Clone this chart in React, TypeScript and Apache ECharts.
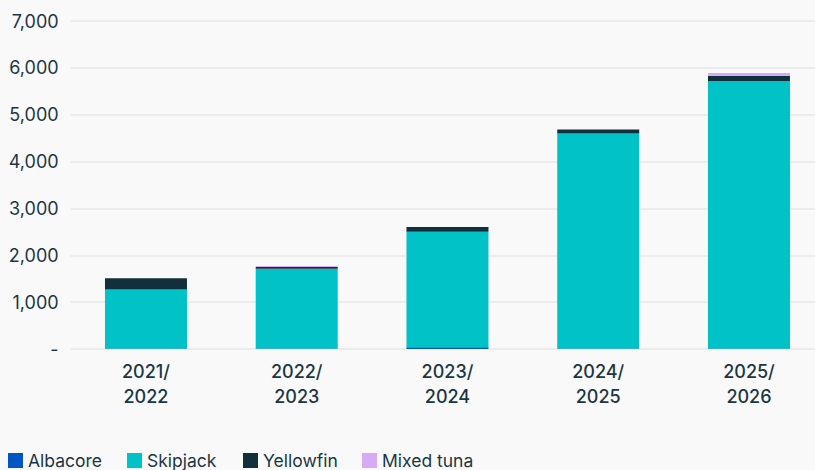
import React, { useEffect, useRef } from "react";
import * as echarts from "echarts";

const categories = ["2021/\n2022", "2022/\n2023", "2023/\n2024", "2024/\n2025", "2025/\n2026"];
const albacore = [10, 10, 40, 10, 10];
const skipjack = [1260, 1700, 2460, 4590, 5710];
const yellowfin = [240, 40, 105, 85, 105];
const mixedTuna = [0, 20, 0, 0, 65];
const yTicks = [0, 1000, 2000, 3000, 4000, 5000, 6000, 7000];
const legendNames = ["Albacore", "Skipjack", "Yellowfin", "Mixed tuna"];
const legendTextWidths = [80, 77, 80, 99];

const FONT = "Inter, 'Noto Sans', sans-serif";
const TEXT = "#1b3745";

export default function App() {
  const ref = useRef<HTMLDivElement>(null);
  useEffect(() => {
    if (!ref.current) return;
    const chart = echarts.init(ref.current, null, { renderer: "svg" });
    const mk = (name: string, data: number[], color: string) => ({
      name,
      type: "bar",
      stack: "total",
      data,
      barWidth: 82,
      itemStyle: { color },
      emphasis: { disabled: true },
    });
    chart.setOption({
      animation: false,
      backgroundColor: "#f9f9f9",
      textStyle: { fontFamily: FONT },
      grid: {
        top: 21,
        height: 328,
        left: 70.6,
        width: 753.75,
        containLabel: false,
        outerBoundsMode: "none",
      },
      legend: {
        top: 451.5,
        left: 8,
        padding: 0,
        icon: "rect",
        itemWidth: 15,
        itemHeight: 15,
        itemGap: 19,
        textStyle: { fontSize: 17.5, lineHeight: 16, color: TEXT, fontFamily: FONT },
        data: legendNames.map((n, i) => ({
          name: n,
          textStyle: { width: legendTextWidths[i] },
        })),
      },
      xAxis: {
        type: "category",
        data: categories,
        axisLine: { show: false },
        axisTick: { show: false },
        axisLabel: {
          fontSize: 18,
          color: TEXT,
          fontWeight: 500,
          lineHeight: 25,
          margin: 10,
          fontFamily: FONT,
        },
      },
      yAxis: {
        type: "value",
        min: yTicks[0],
        max: yTicks[yTicks.length - 1],
        interval: 1000,
        axisLine: { show: false },
        axisTick: { show: false },
        splitLine: { lineStyle: { color: "#ececec", width: 2 } },
        axisLabel: {
          fontSize: 18,
          color: TEXT,
          margin: 12,
          fontFamily: FONT,
          formatter: (v: number) => (v === 0 ? "-" : v.toLocaleString("en-US")),
        },
      },
      series: [
        mk("Albacore", albacore, "#0057c2"),
        mk("Skipjack", skipjack, "#00c2c7"),
        mk("Yellowfin", yellowfin, "#12303c"),
        mk("Mixed tuna", mixedTuna, "#d8aaf5"),
      ],
    });
    return () => chart.dispose();
  }, []);
  return (
    <div
      ref={ref}
      style={{ position: "fixed", left: 0, top: 0, width: 815, height: 470 }}
    />
  );
}
